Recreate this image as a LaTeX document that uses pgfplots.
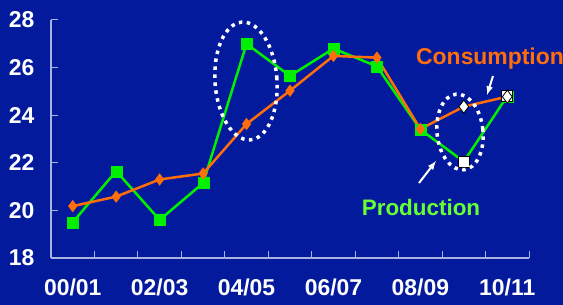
\documentclass[border=0pt]{standalone}
\usepackage{fontspec}
\setmainfont{Liberation Sans}
\usepackage{pgfplots}
\pgfplotsset{compat=1.18}
\definecolor{bgblue}{RGB}{4,26,156}
\definecolor{axcol}{RGB}{170,178,225}
\definecolor{prodgreen}{RGB}{0,240,0}
\definecolor{consorange}{RGB}{255,110,10}
\definecolor{prodtext}{RGB}{102,255,51}
\begin{document}
\begin{tikzpicture}
\fill[bgblue] (0,0) rectangle (563bp,305bp);
\path[use as bounding box] (0,0) rectangle (563bp,305bp);
\begin{axis}[
  scale only axis, width=478bp, height=238bp,
  at={(51bp,47bp)}, anchor=south west,
  xmin=-0.5, xmax=10.5, ymin=18, ymax=28,
  axis x line=bottom, axis y line=left,
  axis line style={axcol, line width=1.2bp, -},
  every tick/.style={axcol, line width=1bp},
  tick align=inside,
  xtick={0,2,4,6,8,10},
  xticklabels={00/01,02/03,04/05,06/07,08/09,10/11},
  major x tick style={draw=none},
  minor xtick={0.5,1.5,...,10.5},
  minor tick length=7bp,
  ytick={18,20,...,28},
  major tick length=7bp,
  /pgf/number format/assume math mode=true,
  ticklabel style={white, font=\bfseries\fontsize{23}{23}\selectfont},
  yticklabel style={xshift=-13bp},
  xticklabel style={yshift=-17bp},
  clip=false,
]
\addplot[prodgreen, line width=2.5bp, mark=square*, mark size=5.5bp, mark options={fill=prodgreen, draw=prodgreen, line width=0.1bp}]
coordinates {(0,19.5) (1,21.65) (2,19.6) (3,21.15) (4,27.0) (5,25.65) (6,26.8) (7,26.05) (8,23.4) (9,22.05) (10,24.8)};
\addplot[only marks, mark=square*, mark size=5.5bp, mark options={fill=white, draw=black, line width=0.8bp}]
coordinates {(9,22.05) (10,24.8)};
\addplot[consorange, line width=2.5bp, mark=diamond*, mark size=6bp, mark options={fill=consorange, draw=consorange, line width=0.1bp}]
coordinates {(0,20.18) (1,20.58) (2,21.3) (3,21.55) (4,23.63) (5,25.03) (6,26.49) (7,26.42) (8,23.42) (9,24.36) (10,24.78)};
\addplot[only marks, mark=diamond*, mark size=6.5bp, mark options={fill=white, draw=black, line width=0.8bp}]
coordinates {(9,24.36) (10,24.78)};
\end{axis}
% annotations
\draw[white, line width=3.5bp, dash pattern=on 3.5bp off 4.5bp, rotate around={4:(246bp,224bp)}] (246bp,224bp) ellipse [x radius=31bp, y radius=59bp];
\draw[white, line width=3.5bp, dash pattern=on 3.5bp off 4.5bp, rotate around={6:(460bp,173bp)}] (460bp,173bp) ellipse [x radius=23bp, y radius=38bp];
\draw[white, line width=2bp, -latex] (493bp,229bp) -- (487bp,210bp);
\draw[white, line width=2bp, -latex] (419bp,122bp) -- (436bp,144bp);
\node[anchor=west, inner sep=0pt, text=consorange, font=\bfseries\fontsize{23}{23}\selectfont] at (416bp,246.5bp) {Consumption};
\node[inner sep=0pt, text=prodtext, font=\bfseries\fontsize{22.5}{22.5}\selectfont] at (421bp,98bp) {Production};
\end{tikzpicture}
\end{document}
